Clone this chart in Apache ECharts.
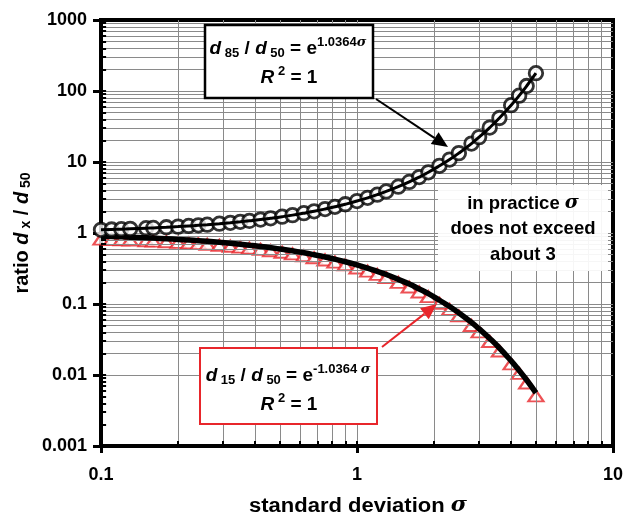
<!DOCTYPE html>
<html><head><meta charset="utf-8">
<script src="https://cdn.jsdelivr.net/npm/echarts@6/dist/echarts.min.js"></script>
<style>html,body{margin:0;padding:0;background:#fff}#c{width:631px;height:521px}</style>
</head><body><div id="c"></div>
<script>
// ---- data ----
const sigma = [0.1,0.11,0.12,0.13,0.15,0.16,0.18,0.2,0.22,0.24,0.26,0.29,0.32,0.35,0.38,0.42,0.46,0.51,0.56,0.62,0.68,0.75,0.82,0.9,1.0,1.1,1.2,1.3,1.45,1.6,1.75,1.9,2.1,2.3,2.5,2.8,3.0,3.3,3.6,4.0,4.3,4.6,5.0];
const d85 = [1.109,1.121,1.132,1.144,1.168,1.180,1.205,1.230,1.256,1.282,1.309,1.351,1.393,1.437,1.483,1.545,1.611,1.696,1.786,1.901,2.022,2.174,2.337,2.541,2.819,3.128,3.467,3.846,4.495,5.246,6.130,7.162,8.832,10.83,13.33,18.18,22.41,30.56,41.67,63.1,86.0,117.6,178.1];
const d15 = [0.902,0.892,0.883,0.874,0.856,0.847,0.830,0.813,0.796,0.780,0.764,0.740,0.718,0.696,0.674,0.647,0.621,0.590,0.560,0.526,0.494,0.460,0.428,0.394,0.355,0.320,0.288,0.260,0.222,0.191,0.163,0.140,0.113,0.0923,0.0750,0.0550,0.0446,0.0327,0.0240,0.0158,0.0116,0.0085,0.0056];
const xTickLabels = ['0.1','1','10'];
const yTickLabels = ['0.001','0.01','0.1','1','10','100','1000'];
const xMinorGrid = [0.2,0.3,0.4,0.5,0.6,0.7,0.8,0.9,1,2,3,4,5,6,7,8,9];
const yMinorGrid = [0.002,0.003,0.004,0.005,0.006,0.007,0.008,0.009,0.01,0.02,0.03,0.04,0.05,0.06,0.07,0.08,0.09,0.1,0.2,0.3,0.4,0.5,0.6,0.7,0.8,0.9,1,2,3,4,5,6,7,8,9,10,20,30,40,50,60,70,80,90,100,200,300,400,500,600,700,800,900];

const F = 'Liberation Sans, Arial, sans-serif';
const SF = 'DejaVu Serif, serif';
const chart = echarts.init(document.getElementById('c'));

function pair(a,b){return a.map((v,i)=>[v,b[i]]);}
function lbl(arr, min){return v => { const i = Math.round(Math.log10(v) - Math.log10(min)); return arr[i] !== undefined ? arr[i] : ''; };}

const gridLines = [].concat(
  xMinorGrid.map(v => ({xAxis: v})),
  yMinorGrid.map(v => ({yAxis: v}))
);
const minorTicks = [].concat(
  yMinorGrid.map(v => [{coord:[0.1, v]},{coord:[0.1047, v]}]),
  xMinorGrid.map(v => [{coord:[v, 0.001]},{coord:[v, 0.00118]}])
);

function arrow(x1,y1,x2,y2,color,w){
  const ang = Math.atan2(y2-y1,x2-x1), L=16, H=7;
  const bx = x2 - L*Math.cos(ang), by = y2 - L*Math.sin(ang);
  const px = -Math.sin(ang)*H, py = Math.cos(ang)*H;
  return [
    {type:'line', shape:{x1,y1,x2:bx,y2:by}, style:{stroke:color,lineWidth:w}, z:100},
    {type:'polygon', shape:{points:[[x2,y2],[bx+px,by+py],[bx-px,by-py]]}, style:{fill:color}, z:100}
  ];
}

function mkRich(fs, ss){
  const L = fs + 10;
  return {
    n:{fontFamily:F,fontWeight:'bold',fontSize:fs,color:'#000',lineHeight:L,verticalAlign:'middle'},
    i:{fontFamily:F,fontWeight:'bold',fontStyle:'italic',fontSize:fs,color:'#000',lineHeight:L,verticalAlign:'middle'},
    sub:{fontFamily:F,fontWeight:'bold',fontSize:ss,color:'#000',lineHeight:ss,verticalAlign:'middle',padding:[8,0,0,0]},
    sup:{fontFamily:F,fontWeight:'bold',fontSize:ss,color:'#000',lineHeight:ss,verticalAlign:'middle',padding:[0,0,13,0]},
    supi:{fontFamily:SF,fontWeight:'bold',fontStyle:'italic',fontSize:ss,color:'#000',lineHeight:ss,verticalAlign:'middle',padding:[0,0,13,0]},
    s:{fontFamily:SF,fontWeight:'bold',fontStyle:'italic',fontSize:fs,color:'#000',lineHeight:L,verticalAlign:'middle'}
  };
}
const richBox = mkRich(19, 13);
const richAx = mkRich(20, 14);

chart.setOption({
  animation:false,
  grid:{left:101,right:18,top:20,bottom:75,show:true,borderColor:'#000',borderWidth:4,backgroundColor:'transparent'},
  xAxis:{type:'log',min:0.1,max:10,logBase:10,
    axisLine:{show:true,onZero:false,lineStyle:{color:'#000',width:4}},
    axisTick:{show:true,inside:false,length:7,lineStyle:{color:'#000',width:3}},
    splitLine:{show:false},
    axisLabel:{margin:20,fontFamily:F,fontWeight:'bold',fontSize:18,color:'#000',formatter:lbl(xTickLabels,0.1)}},
  yAxis:{type:'log',min:0.001,max:1000,logBase:10,
    axisLine:{show:true,onZero:false,lineStyle:{color:'#000',width:4}},
    axisTick:{show:true,inside:false,length:8,lineStyle:{color:'#000',width:3}},
    splitLine:{show:false},
    axisLabel:{margin:14,fontFamily:F,fontWeight:'bold',fontSize:18,color:'#000',formatter:lbl(yTickLabels,0.001)}},
  series:[
    {type:'line',data:[],silent:true,z:1,
      markLine:{silent:true,symbol:'none',animation:false,label:{show:false},
        lineStyle:{color:'#8a8a8a',width:1,type:'solid'},data:gridLines}},
    {type:'line',data:[],silent:true,z:3,
      markLine:{silent:true,symbol:'none',animation:false,label:{show:false},
        lineStyle:{color:'#000',width:2,type:'solid'},data:minorTicks}},
    {name:'d15',type:'scatter',data:pair(sigma,d15),symbol:'triangle',symbolSize:[15,11],symbolOffset:[0,3],
      itemStyle:{color:'#fff',borderColor:'#e8262b',borderWidth:2.2},z:4},
    {name:'d15fit',type:'line',data:pair(sigma,d15),smooth:true,showSymbol:false,symbol:'none',
      lineStyle:{color:'#000',width:5.5},z:5},
    {name:'d85',type:'scatter',data:pair(sigma,d85),symbol:'circle',symbolSize:13.5,
      itemStyle:{color:'#fff',borderColor:'#000',borderWidth:2.8},z:6},
    {name:'d85fit',type:'line',data:pair(sigma,d85),smooth:true,showSymbol:false,symbol:'none',
      lineStyle:{color:'#000',width:3},z:7}
  ],
  graphic:[].concat(
    [
      {type:'rect',shape:{x:205,y:25,width:168,height:73},style:{fill:'#fff',stroke:'#000',lineWidth:2.5},z:90},
      {type:'text',x:288,y:49,z:91,style:{align:'center',verticalAlign:'middle',rich:richBox,
        text:'{i|d}{sub| 85}{n| / }{i|d}{sub| 50}{n| = e}{sup|1.0364}{supi|σ}'}},
      {type:'text',x:289,y:78,z:91,style:{align:'center',verticalAlign:'middle',rich:richBox,
        text:'{i|R}{sup| 2}{n| = 1}'}},
      {type:'rect',shape:{x:200,y:348,width:177,height:76},style:{fill:'#fff',stroke:'#e8262b',lineWidth:2},z:90},
      {type:'text',x:288,y:376,z:91,style:{align:'center',verticalAlign:'middle',rich:richBox,
        text:'{i|d}{sub| 15}{n| / }{i|d}{sub| 50}{n| = e}{sup|-1.0364 }{supi|σ}'}},
      {type:'text',x:289,y:405,z:91,style:{align:'center',verticalAlign:'middle',rich:richBox,
        text:'{i|R}{sup| 2}{n| = 1}'}},
      {type:'rect',shape:{x:438,y:185,width:170,height:86},style:{fill:'rgba(255,255,255,0.92)'},z:90},
      {type:'text',x:523,y:229,z:91,style:{align:'center',verticalAlign:'middle',
        rich:{n:{fontFamily:F,fontWeight:'bold',fontSize:18.5,color:'#000',lineHeight:25.5},
              s:{fontFamily:SF,fontWeight:'bold',fontStyle:'italic',fontSize:19,color:'#000',lineHeight:25.5}},
        text:'{n|in practice }{s|σ}\n{n|does not exceed}\n{n|about 3}'}},
      {type:'text',x:22,y:233,rotation:Math.PI/2,z:91,style:{align:'center',verticalAlign:'middle',rich:richAx,
        text:'{n|ratio }{i|d}{sub| x}{n| / }{i|d}{sub| 50}'}},
      {type:'text',x:358,y:506,z:91,scaleX:1.1,style:{align:'center',verticalAlign:'middle',rich:richAx,
        text:'{n|standard deviation }{s|σ}'}}
    ],
    arrow(376,99,448,147,'#000',2),
    arrow(382,347,437,304,'#e8262b',2)
  )
});
</script></body></html>
